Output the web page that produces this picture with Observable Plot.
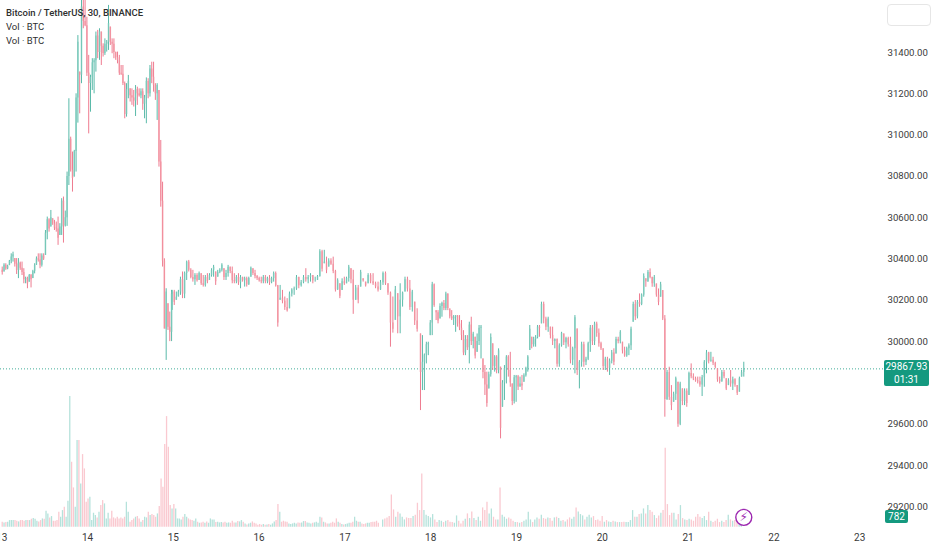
<!DOCTYPE html>
<html>
<head>
<meta charset="utf-8">
<script src="https://cdn.jsdelivr.net/npm/d3@7"></script>
<script src="https://cdn.jsdelivr.net/npm/@observablehq/plot@0.6"></script>
<style>
html,body{margin:0;padding:0;background:#fff;}
#wrap{position:relative;width:932px;height:550px;overflow:hidden;font-family:Roboto,sans-serif;}
#wrap svg{font-family:Roboto,sans-serif;}
.lg{position:absolute;left:6px;font-size:9.5px;color:#2f2f2f;line-height:14px;white-space:nowrap;}
.badge{position:absolute;background:#14997f;color:#fff;text-align:center;border-radius:2px;font-size:10px;}
#box{position:absolute;left:887px;top:4px;width:42px;height:20px;border:1px solid #e6e6e6;border-radius:4px;background:#fff;}
</style>
</head>
<body>
<div id="wrap"></div>
<script>
const titleText = "Bitcoin / TetherUS, 30, BINANCE";
const legendText = ["Vol · BTC", "Vol · BTC"];
const dayLabels = [13,14,15,16,17,18,19,20,21,22,23];
const priceTicks = [29200,29400,29600,30000,30200,30400,30600,30800,31000,31200,31400];
const lastPrice = 29867.93;
const lastVolume = 782;
const countdown = "01:31";

// [high, low, close] per 30-minute bar
const barsA = [[30361,30322,30335],[30377,30337,30370],[30377,30345,30352],[30370,30348,30365],[30393,30368,30390],[30425,30377,30410],[30433,30385,30420],[30402,30361,30375],[30402,30325,30345],[30402,30305,30380],[30385,30345,30355],[30385,30320,30335],[30353,30280,30300],[30312,30280,30305],[30312,30256,30280],[30325,30288,30320],[30325,30260,30300],[30345,30305,30340],[30377,30328,30370],[30410,30369,30400],[30425,30385,30395],[30425,30353,30370],[30425,30361,30415],[30425,30393,30400],[30538,30417,30525],[30603,30493,30590],[30595,30530,30545],[30635,30555,30600],[30595,30563,30570],[30587,30538,30550],[30579,30530,30545],[30603,30466,30500],[30571,30514,30555],[30692,30514,30680],[30700,30477,30560],[30632,30555,30600],[30821,30558,30800],[31176,30756,30980],[30990,30821,30830],[30918,30724,30790],[30926,30797,30920],[31200,30821,31180],[31482,31058,31450],[31305,31103,31290],[31690,31249,31620],[31700,31515,31550],[31680,31525,31530],[31571,31284,31300],[31386,31006,31250],[31290,31111,31280],[31370,31216,31350],[31370,31200,31360],[31499,31305,31480],[31507,31370,31400],[31515,31362,31500],[31499,31337,31430],[31442,31378,31395],[31466,31386,31440],[31458,31402,31450],[31628,31410,31540],[31523,31434,31450],[31466,31394,31440],[31466,31370,31400],[31402,31362,31375],[31402,31345,31360],[31386,31289,31300],[31337,31289,31295],[31337,31240,31250],[31257,31079,31100],[31249,31087,31220],[31289,31176,31260],[31224,31160,31190],[31224,31144,31180],[31216,31136,31165],[31240,31090,31220],[31232,31144,31200],[31224,31184,31190],[31224,31176,31210],[31224,31120,31150],[31192,31079,31180],[31277,31055,31260],[31273,31176,31200],[31337,31184,31320],[31353,31249,31280],[31353,31208,31240],[31249,31168,31200],[31249,31071,31240],[31216,30845,30870],[30974,30651,30680],[30772,30361,30390],[30401,30062,30060],[30256,29909,30240],[30183,30054,30070],[30143,30000,30045],[30248,30000,30230]];
const barsB = [[30248,30151,30240],[30248,30175,30190],[30240,30200,30215],[30248,30216,30240],[30312,30224,30300],[30337,30208,30230],[30337,30208,30330],[30390,30296,30385],[30393,30337,30345],[30353,30304,30310],[30345,30288,30300],[30329,30272,30320],[30329,30288,30295],[30337,30296,30330],[30329,30272,30280],[30320,30264,30272],[30320,30264,30310],[30329,30280,30290],[30329,30296,30320],[30353,30312,30345],[30369,30312,30360],[30337,30272,30290],[30345,30312,30335],[30353,30329,30345],[30377,30337,30370],[30353,30296,30310],[30345,30296,30330],[30369,30312,30360],[30361,30329,30340],[30361,30280,30295],[30329,30280,30290],[30320,30280,30310],[30329,30272,30285],[30320,30256,30310],[30312,30288,30295],[30312,30264,30305],[30312,30264,30275],[30312,30272,30305],[30361,30312,30355],[30353,30320,30330],[30345,30304,30315],[30320,30296,30305],[30312,30288,30295],[30312,30280,30290],[30320,30280,30310],[30320,30280,30290],[30312,30280,30305],[30320,30272,30285],[30312,30280,30305],[30337,30288,30330],[30337,30264,30270],[30272,30070,30090],[30272,30200,30210],[30248,30183,30195],[30216,30151,30165],[30208,30143,30150],[30240,30159,30230],[30256,30216,30250],[30264,30224,30255],[30320,30248,30310],[30312,30256,30270],[30296,30264,30285],[30320,30280,30310],[30353,30288,30300],[30320,30280,30310],[30329,30288,30320],[30320,30280,30295],[30312,30288,30295],[30320,30296,30315],[30445,30312,30435],[30442,30337,30350],[30442,30377,30385],[30409,30329,30345],[30401,30361,30390],[30401,30369,30375],[30409,30329,30340],[30345,30240,30250],[30304,30248,30295],[30280,30208,30220],[30304,30248,30290],[30312,30272,30280],[30312,30280,30305],[30369,30288,30360],[30353,30280,30300],[30345,30132,30200],[30272,30200,30260],[30272,30183,30200],[30345,30264,30335],[30304,30288,30295],[30288,30264,30270],[30329,30280,30320],[30329,30280,30290],[30329,30272,30280],[30288,30256,30265],[30288,30240,30250],[30296,30248,30285],[30337,30272,30330],[30337,30272,30280],[30280,30224,30235],[30240,29973,30090],[30216,30041,30060],[30267,30103,30250],[30232,30038,30120],[30280,30038,30200],[30240,30167,30235],[30312,30240,30300],[30312,30240,30255],[30296,30151,30165],[30248,30143,30240],[30191,30078,30100],[30159,30046,30060]];
const barsC = [[30037,29666,29850],[30029,29763,29900],[29940,29763,29935],[29997,29892,29985],[29997,29932,29990],[30102,30029,30090],[30287,30029,30275],[30279,30166,30175],[30150,30102,30140],[30150,30086,30100],[30183,30110,30170],[30191,30118,30185],[30199,30150,30160],[30239,30150,30230],[30231,30150,30160],[30158,30110,30120],[30150,30102,30110],[30126,30078,30118],[30126,30045,30124],[30126,30070,30085],[30126,30053,30065],[30102,30005,30030],[30053,29932,29945],[30029,29932,30010],[30029,29957,29970],[30094,29892,30080],[30118,29981,30000],[30045,29965,30035],[30021,29916,29930],[30037,29948,30000],[30078,29981,30065],[30078,29916,30070],[29916,29820,29850],[29884,29739,29790],[29852,29682,29700],[29852,29771,29840],[30037,29828,30020],[29989,29860,29880],[29932,29852,29925],[29932,29844,29860],[29965,29844,29955],[29876,29529,29580],[29811,29682,29800],[29884,29715,29870],[29932,29795,29925],[29932,29828,29860],[29948,29779,29800],[29795,29690,29710],[29836,29698,29825],[29836,29706,29830],[29836,29763,29780],[29828,29779,29795],[29836,29763,29785],[29844,29803,29835],[29876,29828,29870],[29932,29852,29925],[30078,29957,30060],[30021,29965,29985],[30021,29973,30010],[30029,29973,30020],[30078,30013,30070],[30078,30021,30065],[30191,30086,30180],[30191,30086,30110],[30118,30053,30070],[30118,30045,30110],[30070,30013,30030],[30070,29981,30000],[30013,29965,30010],[30013,29876,29890],[29989,29876,29980],[30045,29973,30040],[30037,29981,29995],[30021,29965,30015],[30021,29973,29985],[30021,29892,29910],[29973,29884,29965],[30126,29844,30115],[30061,29836,29860],[29908,29771,29900],[29997,29876,29985],[29997,29876,29900],[29924,29884,29915],[29997,29908,29990],[30078,29948,30065],[30078,29981,30000],[30094,29981,30085],[30094,30021,30040],[30061,29973,29990],[29997,29957,29965],[29965,29860,29880],[29924,29860,29915],[29924,29852,29870],[29916,29836,29905],[29957,29892,29945],[29965,29884,29900],[30021,29940,30010],[30021,29989,30000],[30053,29989,30045],[29997,29940,29955],[29973,29924,29930],[29973,29924,29965],[29989,29932,29980],[30070,29957,30060],[30191,30094,30180],[30199,30102,30120],[30199,30110,30190],[30231,30166,30180],[30231,30174,30225],[30328,30215,30315],[30304,30263,30290],[30344,30287,30335],[30352,30304,30310],[30312,30263,30280],[30320,30263,30310],[30279,30215,30225],[30255,30174,30190],[30287,30215,30275],[30247,30102,30110],[30126,29634,29720],[29860,29715,29850],[29876,29715,29730],[29787,29666,29690],[29755,29706,29745],[29828,29715,29820],[29803,29585,29600],[29803,29593,29795],[29771,29690,29710],[29771,29690,29760],[29771,29682,29700],[29852,29739,29845],[29892,29820,29830],[29844,29811,29820],[29828,29803,29810],[29828,29795,29805],[29828,29779,29790],[29836,29734,29825],[29908,29779,29900],[29957,29844,29945],[29948,29892,29905],[29948,29900,29910],[29924,29884,29895],[29900,29868,29875],[29868,29803,29815],[29828,29795,29805],[29860,29803,29850],[29860,29820,29830],[29820,29763,29770],[29820,29787,29810],[29860,29779,29795],[29828,29763,29815],[29820,29779,29790],[29787,29739,29750],[29828,29755,29820],[29860,29828,29850],[29900,29828,29868]];
const volumeA = [300,260,280,300,400,400,400,400,360,320,400,400,360,400,400,400,480,520,480,360,320,400,500,480,960,800,560,640,360,360,400,900,600,1000,1200,600,1560,7840,3900,2360,1200,5200,5200,2600,4360,3500,1500,1700,1800,400,840,700,560,900,1300,1600,1400,500,840,500,960,560,500,600,500,560,500,600,1500,900,300,400,500,600,640,500,300,400,600,560,900,700,760,700,600,800,1240,2900,2400,4960,6640,4800,1300,1100,1360,1100,500,500,440,600,760,600,500,440,400,360,500,300,240,260,300,240,320,240,500,440,440,280,300,260,280,260,300,240,260,240,360,260,260,340,320,400,300,200,140,200,240,320,240,200,120,160,120,160,120,140,160,120,200,320,400,1360,900,300,360,320,300,200,160,200,240,200,260,240,260,340,340,260,240,200,240,260,300,240,600,560,300,260,200,200,240,300,240,500,300,240,160,140,160,200,240,240,300,600,360,300,300,200,160,200,240,240,280,300,300,360,240];
const volumeB = [440,500,560,640,1940,1040,600,900,800,600,440,560,520,520,640,720,1440,1000,3200,1000,720,640,560,760,440,280,400,360,280,360,400,300,280,240,680,360,200,360,480,800,520,920,520,400,600,360,1160,1000,1500,800,1100,600,440,440,2360,720,600,480,560,480,360,280,280,240,280,360,440,900,440,280,440,560,480,720,520,480,560,520,360,560,600,520,360,400,320,440,560,480,600,1160,920,760,680,440,600,720,560,640,400,440,360,640,300,400,320,280,360,320,280,280,280,300,280,280,400,1000,600,600,760,800,1100,800,1300,1000,900,700,520,680,840,1000,4740,1360,700,840,840,440,760,1300,520,440,400,480,440,360,600,760,600,520,640,400,900,360,280,360,480,280,360,280,400,720,440,360,400,320,400,240];
// volume spikes that belong to falling bars
const downSpikes = [3900,2360,2900,2400,4960,6640,1360,1940,3200,4740,1440];
// where some read bars sit on the day axis
const anchorsB = [[0,14.987],[51,16.218],[69,16.708],[84,17.097],[99,17.531],[110,17.842]];
const anchorsC = [[0,17.881],[41,18.814],[62,19.291],[81,19.785],[104,20.36],[119,20.729],[155,21.649]];

const bars = [...barsA, ...barsB, ...barsC];
const nA = barsA.length, nB = barsB.length, N = bars.length;
const anchors = [[0,13.006],[nA-1,14.98],...anchorsB.map(([i,d])=>[i+nA,d]),...anchorsC.map(([i,d])=>[i+nA+nB,d])];
const barDay = d3.scaleLinear().domain(anchors.map(a=>a[0])).range(anchors.map(a=>a[1]));
const candles = bars.map(([high, low, close], i) => {
  const prev = i ? bars[i - 1][2] : 30345;
  const open = Math.min(high, Math.max(low, prev));
  return {day: barDay(i), high, low, close, open, up: close >= prev};
});

const vols = [...volumeA, ...volumeB];
const volDay = d3.scaleLinear()
  .domain([0, volumeA.length - 1, volumeA.length, vols.length - 1])
  .range([13.006, 17.39, 17.44, 21.62]);
// the volume pane shares the chart's vertical scale through this mapping
const volBase = 29101, volPerUnit = 0.0807;
const dayIdx = d3.bisector(d => d.day);
const volumes = vols.map((v, j) => {
  const day = volDay(j);
  const c = candles[Math.min(N - 1, dayIdx.center(candles, day))];
  return {day, top: volBase + v * volPerUnit, up: c.up && !downSpikes.includes(v)};
});

const UP = "#48b3a0", DOWN = "#ec6e84";
const chart = Plot.plot({
  width: 932, height: 550,
  marginLeft: 0, marginRight: 45, marginTop: 0, marginBottom: 20,
  x: {type: "linear", domain: [13, 23], range: [1.2, 859.2]},
  y: {type: "linear", domain: [29200, 31400], range: [506.3, 52]},
  marks: [
    Plot.ruleX(volumes, {x: "day", y1: volBase, y2: "top", stroke: d => d.up ? "#b5e2db" : "#fac9d0", strokeWidth: 1.3}),
    Plot.ruleY([lastPrice], {stroke: "#14997f", strokeWidth: 1, strokeDasharray: "1,2", strokeOpacity: 0.8}),
    Plot.ruleX(candles, {x: "day", y1: "low", y2: "high", stroke: d => d.up ? UP : DOWN, strokeWidth: 1, strokeOpacity: 0.9}),
    Plot.ruleX(candles, {x: "day", y1: "open", y2: "close", stroke: d => d.up ? "#7ccabb" : "#f3929f", strokeWidth: 1.5, strokeOpacity: 0.8}),
    Plot.axisY({anchor: "right", ticks: priceTicks, tickFormat: d => d.toFixed(2), tickSize: 0, tickPadding: 0, label: null, fontSize: 9.6, fill: "#3a3a3a"}),
    Plot.axisX({anchor: "bottom", ticks: dayLabels, tickFormat: d => String(d), tickSize: 0, tickPadding: 3, label: null, fontSize: 10, fill: "#3a3a3a"}),
    Plot.dot([{day: candles[N - 1].day, p: 29149}], {x: "day", y: "p", r: 8, stroke: "#9c27b0", strokeWidth: 1.4, fill: "#fff"}),
    Plot.text([{day: candles[N - 1].day, p: 29149}], {x: "day", y: "p", text: () => "⚡", fill: "#9c27b0", fontSize: 12, fontFamily: "DejaVu Sans"})
  ]
});
const wrap = document.getElementById("wrap");
wrap.appendChild(chart);
function add(cls, css, html){const e=document.createElement("div");e.className=cls;e.style.cssText=css;e.innerHTML=html;wrap.appendChild(e);}
add("lg","top:6px;font-weight:500;",titleText);
add("lg","top:20px;",legendText[0]);
add("lg","top:34px;",legendText[1]);
const box=document.createElement("div");box.id="box";wrap.appendChild(box);
add("badge","left:884px;top:360px;width:45px;height:26px;line-height:13px;",lastPrice.toFixed(2)+"<br>"+countdown);
add("badge","left:885px;top:510px;width:23px;height:13px;line-height:13px;",String(lastVolume));
</script>
</body>
</html>
